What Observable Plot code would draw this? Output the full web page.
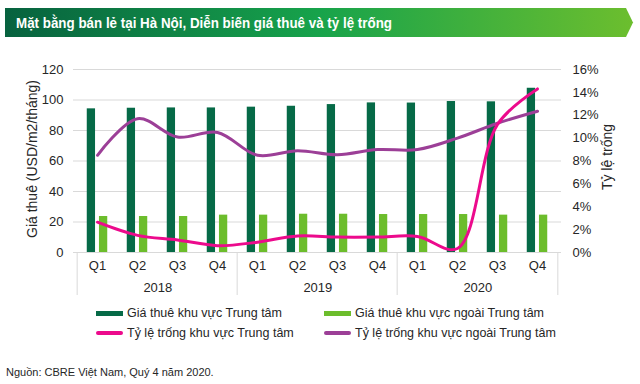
<!DOCTYPE html>
<html>
<head>
<meta charset="utf-8">
<script src="https://cdn.jsdelivr.net/npm/d3@7"></script>
<script src="https://cdn.jsdelivr.net/npm/@observablehq/plot@0.6"></script>
<style>
  body { margin: 0; background: #fff; font-family: "Liberation Sans", Arial, sans-serif; }
  #wrap { position: relative; width: 640px; height: 384px; overflow: hidden; }
  #chart { position: absolute; left: 0; top: 0; }
  #banner { position: absolute; left: 0; top: 0; }
  .ytitle { position: absolute; font-size: 14px; color: #262626; white-space: nowrap; transform-origin: center center; }
  .leg { position: absolute; font-size: 12.5px; color: #262626; white-space: nowrap; display: flex; align-items: center; }
  .sw { display: inline-block; width: 27px; margin-right: 4px; }
  #source { position: absolute; left: 6px; top: 366px; font-size: 11px; color: #262626; }
</style>
</head>
<body>
<div id="wrap">
  <div id="chart"></div>
  <svg id="banner" width="640" height="45">
    <defs>
      <linearGradient id="g" x1="0" x2="1" y1="0" y2="0">
        <stop offset="0" stop-color="#07623f"/>
        <stop offset="0.5" stop-color="#17a34b"/>
        <stop offset="1" stop-color="#6cbe2e"/>
      </linearGradient>
    </defs>
    <polygon points="5,8 626,8 633,22.5 626,37 5,37" fill="url(#g)"/>
    <text id="title" x="16" y="28" fill="#fff" font-family="Liberation Sans, Arial, sans-serif" font-weight="bold" font-size="14.5" textLength="376" lengthAdjust="spacingAndGlyphs"></text>
  </svg>
  <div class="ytitle" id="ylab"></div>
  <div class="ytitle" id="ylab2"></div>
  <div id="legend"></div>
  <div id="source"></div>
</div>
<script>
const titleText = "Mặt bằng bán lẻ tại Hà Nội, Diễn biến giá thuê và tỷ lệ trống";
const leftTitle = "Giá thuê (USD/m2/tháng)";
const rightTitle = "Tỷ lệ trống";
const sourceText = "Nguồn: CBRE Việt Nam, Quý 4 năm 2020.";

const years = ["2018", "2019", "2020"];
const quarters = ["Q1", "Q2", "Q3", "Q4"];
const rentCentral = [94.2, 94.6, 94.8, 94.8, 95.3, 95.9, 97.0, 98.1, 98.0, 99.0, 98.8, 107.7];
const rentOutside = [23.6, 23.6, 23.6, 24.5, 24.5, 25.1, 25.1, 24.9, 24.9, 24.9, 24.5, 24.5];
const vacCentral = [2.65, 1.5, 1.1, 0.6, 0.9, 1.45, 1.35, 1.35, 1.4, 0.35, 11.2, 14.3];
const vacOutside = [8.5, 11.7, 10.1, 10.5, 8.5, 8.9, 8.55, 9.0, 9.0, 10.0, 11.3, 12.35];
const leftTicks = [0, 20, 40, 60, 80, 100, 120];
const rightTicks = [0, 2, 4, 6, 8, 10, 12, 14, 16];
const seriesNames = ["Giá thuê khu vực Trung tâm", "Giá thuê khu vực ngoài Trung tâm", "Tỷ lệ trống khu vực Trung tâm", "Tỷ lệ trống khu vực ngoài Trung tâm"];
const colors = ["#066a47", "#6cbd2c", "#ec0a8c", "#9c3f97"];

const keys = years.flatMap(y => quarters.map(q => y + "-" + q));
const rows = keys.map((k, i) => ({
  key: k, year: k.split("-")[0], q: k.split("-")[1],
  rc: rentCentral[i], ro: rentOutside[i], vc: vacCentral[i], vo: vacOutside[i]
}));
const ratio = 120 / 16; // right axis (%) to left axis units

const W = 640, H = 300, mL = 73, mR = 79, mT = 69, mB = 48;
const bw = (W - mL - mR) / keys.length;

const plot = Plot.plot({
  width: W, height: H,
  marginLeft: mL, marginRight: mR, marginTop: mT, marginBottom: mB,
  style: { background: "transparent", fontFamily: "Liberation Sans, Arial, sans-serif", fontSize: "13px", color: "#262626" },
  x: { domain: keys, padding: 0, axis: null },
  y: { domain: [0, 120], axis: null },
  marks: [
    Plot.gridY(leftTicks, { stroke: "#d9d9d9", strokeOpacity: 1, strokeWidth: 1 }),
    Plot.barY(rows, { x: "key", y: "rc", fill: colors[0], insetLeft: bw * 0.24, insetRight: bw * 0.54 }),
    Plot.barY(rows, { x: "key", y: "ro", fill: colors[1], insetLeft: bw * 0.54, insetRight: bw * 0.24 }),
    Plot.line(rows, { x: "key", y: d => d.vo * ratio, stroke: colors[3], strokeWidth: 3, curve: "catmull-rom" }),
    Plot.line(rows, { x: "key", y: d => d.vc * ratio, stroke: colors[2], strokeWidth: 3, curve: "catmull-rom" }),
    Plot.axisY(leftTicks, { anchor: "left", tickSize: 0, tickPadding: 10, label: null, fontSize: 13 }),
    Plot.axisY(rightTicks.map(t => t * ratio), { anchor: "right", tickSize: 0, tickPadding: 11, label: null, fontSize: 13, tickFormat: d => Math.round(d / ratio) + "%" }),
    Plot.axisX(keys, { tickSize: 0, tickPadding: 8, label: null, fontSize: 13, tickFormat: d => d.split("-")[1] }),
    Plot.ruleX(years.map(y => y + "-Q1"), { dx: -bw / 2, y1: 0, y2: -28.2, stroke: "#d9d9d9" }),
    Plot.ruleX([keys[keys.length - 1]], { dx: bw / 2, y1: 0, y2: -28.2, stroke: "#d9d9d9" }),
    Plot.text(years, { x: d => d + "-Q2", dx: bw / 2, frameAnchor: "bottom", dy: 35.5, lineAnchor: "middle", text: d => d, fontSize: 13, fill: "#262626" })
  ]
});
document.getElementById("chart").appendChild(plot);

document.getElementById("title").textContent = titleText;
document.getElementById("source").textContent = sourceText;

const yl = document.getElementById("ylab");
yl.textContent = leftTitle;
yl.style.left = (32 - 80) + "px"; yl.style.top = (160 - 9) + "px";
yl.style.width = "160px"; yl.style.textAlign = "center";
yl.style.transform = "rotate(-90deg)";

const yr = document.getElementById("ylab2");
yr.textContent = rightTitle;
yr.style.left = (607 - 50) + "px"; yr.style.top = (158 - 9) + "px";
yr.style.width = "100px"; yr.style.textAlign = "center";
yr.style.transform = "rotate(-90deg)";

const legend = document.getElementById("legend");
const legPos = [[96, 313], [324, 313], [96, 333], [324, 333]];
seriesNames.forEach((name, i) => {
  const el = document.createElement("div");
  el.className = "leg";
  el.style.left = legPos[i][0] + "px";
  el.style.top = (legPos[i][1] - 8) + "px";
  el.style.height = "16px";
  const sw = document.createElement("span");
  sw.className = "sw";
  sw.style.background = colors[i];
  if (i < 2) { sw.style.height = "5px"; }
  else { sw.style.height = "4px"; sw.style.borderRadius = "2px"; }
  el.appendChild(sw);
  const t = document.createElement("span");
  t.textContent = name;
  el.appendChild(t);
  legend.appendChild(el);
});
</script>
</body>
</html>
